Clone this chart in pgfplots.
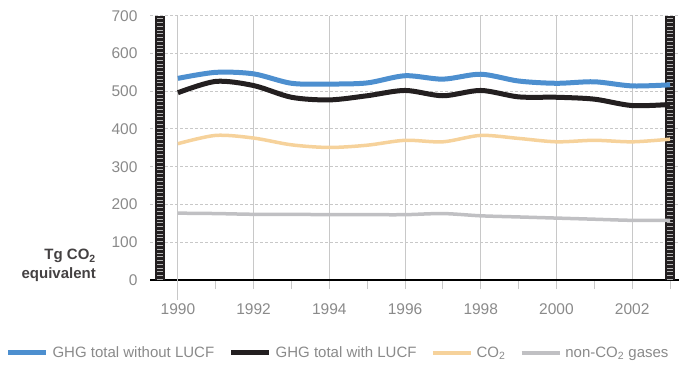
\documentclass[border=0pt]{standalone}
\usepackage{pgfplots}
\pgfplotsset{compat=1.18}
\usepackage{fontspec}
\setmainfont{Liberation Sans}

\definecolor{ghgblue}{HTML}{4D8FCF}
\definecolor{ghgblack}{HTML}{231F20}
\definecolor{co2col}{HTML}{F6D29B}
\definecolor{nonco2}{HTML}{C0C0C3}
\definecolor{labelgray}{HTML}{8A8A8A}
\definecolor{gridgray}{HTML}{C8C8C8}
\definecolor{stripe}{HTML}{B4B4B4}

\begin{document}
\begin{tikzpicture}[font=\fontsize{15.5bp}{18bp}\selectfont]
\begin{axis}[
    at={(150bp,-280bp)}, anchor=south west,
    width=529bp, height=264.3bp, scale only axis,
    xmin=1989.263, xmax=2003.237,
    ymin=0, ymax=700, clip=false,
    axis x line*=bottom, axis y line*=left,
    y axis line style={draw=none},
    x axis line style={draw=black, line width=1.2bp, -},
    xtick={1990,1992,...,2002},
    minor xtick={1991,1993,...,2003},
    ytick={0,100,...,700},
    tick align=outside,
    major tick length=9bp, minor tick length=9bp,
    xtick style={draw=gridgray, line width=1bp},
    ytick style={draw=none},
    xmajorgrids, ymajorgrids,
    major grid style={draw=gridgray, line width=1bp},
    every axis y grid/.append style={dash pattern=on 2.5bp off 2.5bp},
    /pgf/number format/assume math mode=true,
    xticklabel style={/pgf/number format/1000 sep=, yshift=-11bp},
    ticklabel style={text=labelgray},
    legend columns=4,
    legend style={draw=none, fill=none, at={(axis description cs:-0.2735,-0.276)},
        anchor=west, column sep=0bp, inner sep=0bp,
        font=\fontsize{15bp}{18bp}\selectfont,
        /tikz/every odd column/.append style={column sep=2bp},
        /tikz/every even column/.append style={column sep=12.5bp},
        text=labelgray},
    legend image code/.code={\draw[#1] (0bp,0bp) -- (38bp,0bp);},
]
% broken-axis bars
\fill[ghgblack] (axis cs:1989.39,0) rectangle (axis cs:1989.66,700);
\draw[stripe, line width=6bp, dash pattern=on 1bp off 2.78bp] (axis cs:1989.525,0) -- (axis cs:1989.525,700);
\fill[ghgblack] (axis cs:2002.868,0) rectangle (axis cs:2003.132,700);
\draw[stripe, line width=6bp, dash pattern=on 1bp off 2.78bp] (axis cs:2003,0) -- (axis cs:2003,700);
% the 1990 grid line runs a little lower than the others
\draw[gridgray, line width=1bp] (axis cs:1990,660) -- (axis cs:1990,-53);

\addplot[ghgblue, line width=5bp, smooth] coordinates {
    (1990,534) (1991,550) (1992,546) (1993,521) (1994,519) (1995,522) (1996,541)
    (1997,532) (1998,545) (1999,527) (2000,521) (2001,525) (2002,514) (2003,517)};
\addlegendentry{GHG total without LUCF}
\addplot[ghgblack, line width=5bp, smooth] coordinates {
    (1990,496) (1991,526) (1992,515) (1993,484) (1994,477) (1995,488) (1996,502)
    (1997,488) (1998,502) (1999,485) (2000,484) (2001,479) (2002,462) (2003,465)};
\addlegendentry{GHG total with LUCF}
\addplot[co2col, line width=3.5bp, smooth] coordinates {
    (1990,361) (1991,383) (1992,376) (1993,358) (1994,351) (1995,357) (1996,370)
    (1997,366) (1998,383) (1999,375) (2000,366) (2001,370) (2002,366) (2003,373)};
\addlegendentry{CO\textsubscript{2}}
\addplot[nonco2, line width=3.5bp, smooth] coordinates {
    (1990,177) (1991,176) (1992,174) (1993,174) (1994,173) (1995,173) (1996,173)
    (1997,176) (1998,170) (1999,167) (2000,164) (2001,161) (2002,158) (2003,158)};
\addlegendentry{non-CO\textsubscript{2} gases}
\end{axis}
\node[anchor=north east, align=right, inner sep=0pt, text=ghgblack!85,
      font=\bfseries\fontsize{15bp}{19bp}\selectfont] at (96bp,-249bp)
      {Tg CO\textsubscript{2}\\equivalent};
\pgfresetboundingbox
\path[use as bounding box] (0bp,0bp) rectangle (679bp,-370bp);
\end{tikzpicture}
\end{document}
